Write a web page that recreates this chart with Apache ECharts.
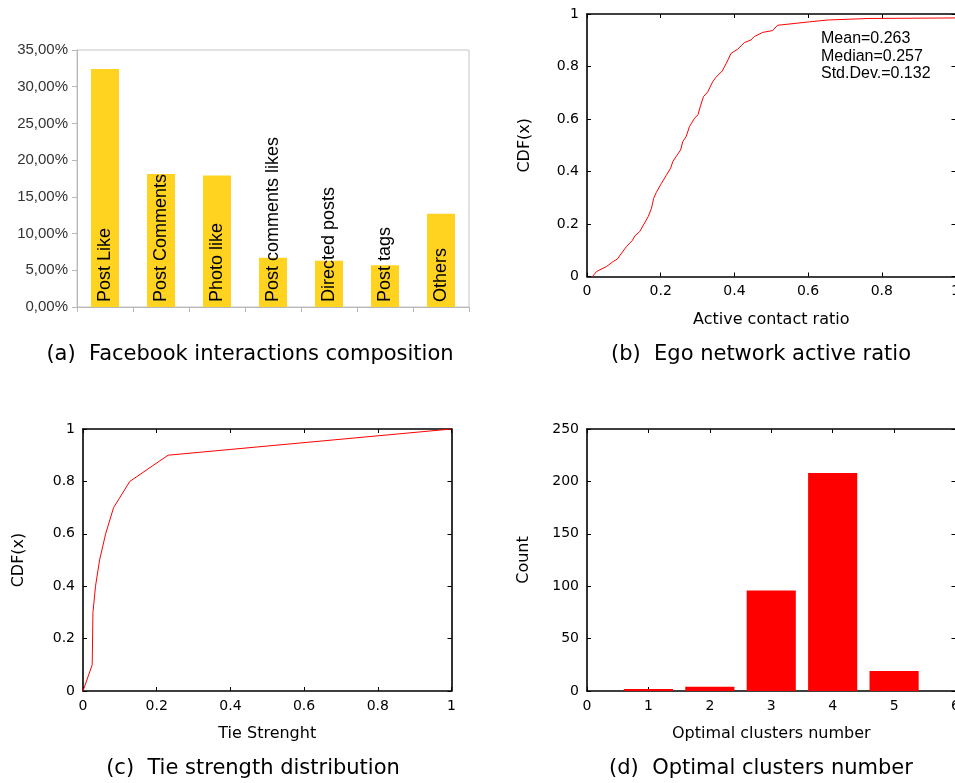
<!DOCTYPE html>
<html>
<head>
<meta charset="utf-8">
<script src="https://cdn.jsdelivr.net/npm/echarts@6/dist/echarts.min.js"></script>
<style>
html,body{margin:0;padding:0;background:#fff;}
#chart{width:955px;height:783px;}
</style>
</head>
<body>
<div id="chart"></div>
<script>
// (a) Facebook interactions composition
const interactionCategories = ['Post Like', 'Post Comments', 'Photo like', 'Post comments likes', 'Directed posts', 'Post tags', 'Others'];
const interactionShares = [32.4, 18.1, 17.9, 6.7, 6.3, 5.7, 12.7];

// (b) Ego network active ratio (CDF)
const activeRatioX = [0.015,0.026,0.053,0.071,0.082,0.107,0.123,0.130,0.143,0.166,0.175,0.181,0.188,0.202,0.215,0.227,0.233,0.242,0.254,0.260,0.269,0.278,0.292,0.301,0.308,0.316,0.328,0.341,0.350,0.367,0.378,0.391,0.409,0.427,0.445,0.454,0.477,0.504,0.517,0.603,0.652,0.765,1.0];
const activeRatioCdf = [0,0.019,0.038,0.057,0.066,0.114,0.137,0.155,0.171,0.228,0.26,0.298,0.32,0.355,0.385,0.413,0.438,0.457,0.482,0.514,0.533,0.571,0.603,0.616,0.65,0.685,0.704,0.742,0.759,0.783,0.812,0.85,0.866,0.891,0.901,0.914,0.93,0.937,0.957,0.97,0.977,0.983,0.985];
const activeRatioStats = ['Mean=0.263', 'Median=0.257', 'Std.Dev.=0.132'];

// (c) Tie strength distribution (CDF)
const tieStrengthX = [0, 0.025, 0.027, 0.034, 0.045, 0.0615, 0.083, 0.127, 0.231, 1.0];
const tieStrengthCdf = [0, 0.1, 0.3, 0.4, 0.5, 0.6, 0.7, 0.8, 0.9, 1.0];

// (d) Optimal clusters number
const clusterNumbers = [1, 2, 3, 4, 5];
const clusterCounts = [2, 4, 96, 208, 19];

const captions = ['(a)  Facebook interactions composition', '(b)  Ego network active ratio', '(c)  Tie strength distribution', '(d)  Optimal clusters number'];

const GP_FONT = 'DejaVu Sans';
const pairs = (xs, ys) => xs.map((x, i) => [x, ys[i]]);

function gpAxis(gridIndex, position, min, max, interval, showLabel, name, nameGap) {
  return {
    type: 'value', gridIndex, position, min, max, interval,
    axisLine: { show: true, onZero: false, lineStyle: { color: '#000', width: 1.6 } },
    axisTick: { show: true, inside: true, length: 4, lineStyle: { color: '#000', width: 1 } },
    axisLabel: { show: showLabel, color: '#000', fontFamily: GP_FONT, fontSize: 14, margin: 8 },
    splitLine: { show: false },
    name: name || '', nameLocation: 'middle', nameGap: nameGap || 0,
    nameTextStyle: { color: '#000', fontFamily: GP_FONT, fontSize: 16 }
  };
}

const grids = [
  { left: 77, top: 50, width: 392, height: 257, show: true, borderColor: '#c4c4c4', borderWidth: 1, outerBoundsMode: 'none' },
  { left: 587, top: 14, width: 368.5, height: 262.5, outerBoundsMode: 'none' },
  { left: 83, top: 429, width: 368.5, height: 262, outerBoundsMode: 'none' },
  { left: 587, top: 429, width: 368.5, height: 262, outerBoundsMode: 'none' }
];

const option = {
  animation: false,
  backgroundColor: '#fff',
  grid: grids,
  xAxis: [
    {
      type: 'category', gridIndex: 0, data: interactionCategories,
      axisLine: { lineStyle: { color: '#b8b8b8', width: 1 } },
      axisTick: { show: true, interval: 0, length: 5, lineStyle: { color: '#b8b8b8' } },
      axisLabel: { show: false, interval: 0 }
    },
    gpAxis(1, 'bottom', 0, 1, 0.2, true, 'Active contact ratio', 35),
    gpAxis(1, 'top', 0, 1, 0.2, false),
    gpAxis(2, 'bottom', 0, 1, 0.2, true, 'Tie Strenght', 35),
    gpAxis(2, 'top', 0, 1, 0.2, false),
    gpAxis(3, 'bottom', 0, 6, 1, true, 'Optimal clusters number', 35),
    gpAxis(3, 'top', 0, 6, 1, false)
  ],
  yAxis: [
    {
      type: 'value', gridIndex: 0, min: 0, max: 35, interval: 5,
      axisLine: { show: true, lineStyle: { color: '#b8b8b8', width: 1 } },
      axisTick: { show: true, length: 5, lineStyle: { color: '#b8b8b8' } },
      axisLabel: { color: '#333', fontFamily: 'Liberation Sans', fontSize: 15, margin: 9,
        formatter: v => v.toFixed(2).replace('.', ',') + '%' },
      splitLine: { show: false }
    },
    gpAxis(1, 'left', 0, 1, 0.2, true, 'CDF(x)', 54),
    gpAxis(1, 'right', 0, 1, 0.2, false),
    gpAxis(2, 'left', 0, 1, 0.2, true, 'CDF(x)', 56),
    gpAxis(2, 'right', 0, 1, 0.2, false),
    gpAxis(3, 'left', 0, 250, 50, true, 'Count', 55),
    gpAxis(3, 'right', 0, 250, 50, false)
  ],
  series: [
    {
      type: 'bar', xAxisIndex: 0, yAxisIndex: 0, data: interactionShares,
      barWidth: '50%', itemStyle: { color: '#ffd320' },
      label: {
        show: true, formatter: '{b}', position: 'insideBottom', rotate: 90,
        align: 'left', verticalAlign: 'middle', distance: 5,
        color: '#000', fontFamily: 'Liberation Sans', fontSize: 18
      }
    },
    {
      type: 'line', xAxisIndex: 1, yAxisIndex: 1, data: pairs(activeRatioX, activeRatioCdf),
      showSymbol: false, symbol: 'none', lineStyle: { color: '#ff0000', width: 1 }
    },
    {
      type: 'line', xAxisIndex: 3, yAxisIndex: 3, data: pairs(tieStrengthX, tieStrengthCdf),
      showSymbol: false, symbol: 'none', lineStyle: { color: '#ff0000', width: 1 }
    },
    {
      type: 'bar', xAxisIndex: 5, yAxisIndex: 5, data: pairs(clusterNumbers, clusterCounts),
      barWidth: '80%', itemStyle: { color: '#ff0000' }
    }
  ],
  graphic: [
    ...activeRatioStats.map((t, i) => ({
      type: 'text', left: 821, top: 31 + i * 17.5,
      style: { text: t, fill: '#000', font: '16px "Liberation Sans"' }
    })),
    ...captions.map((t, i) => ({
      type: 'text',
      x: [250, 761, 253, 761][i], y: [355, 355, 769, 769][i],
      style: { text: t, fill: '#000', font: '21px "DejaVu Sans"', align: 'center', verticalAlign: 'middle' }
    }))
  ]
};

const chart = echarts.init(document.getElementById('chart'), null, { renderer: 'canvas' });
chart.setOption(option);
</script>
</body>
</html>
